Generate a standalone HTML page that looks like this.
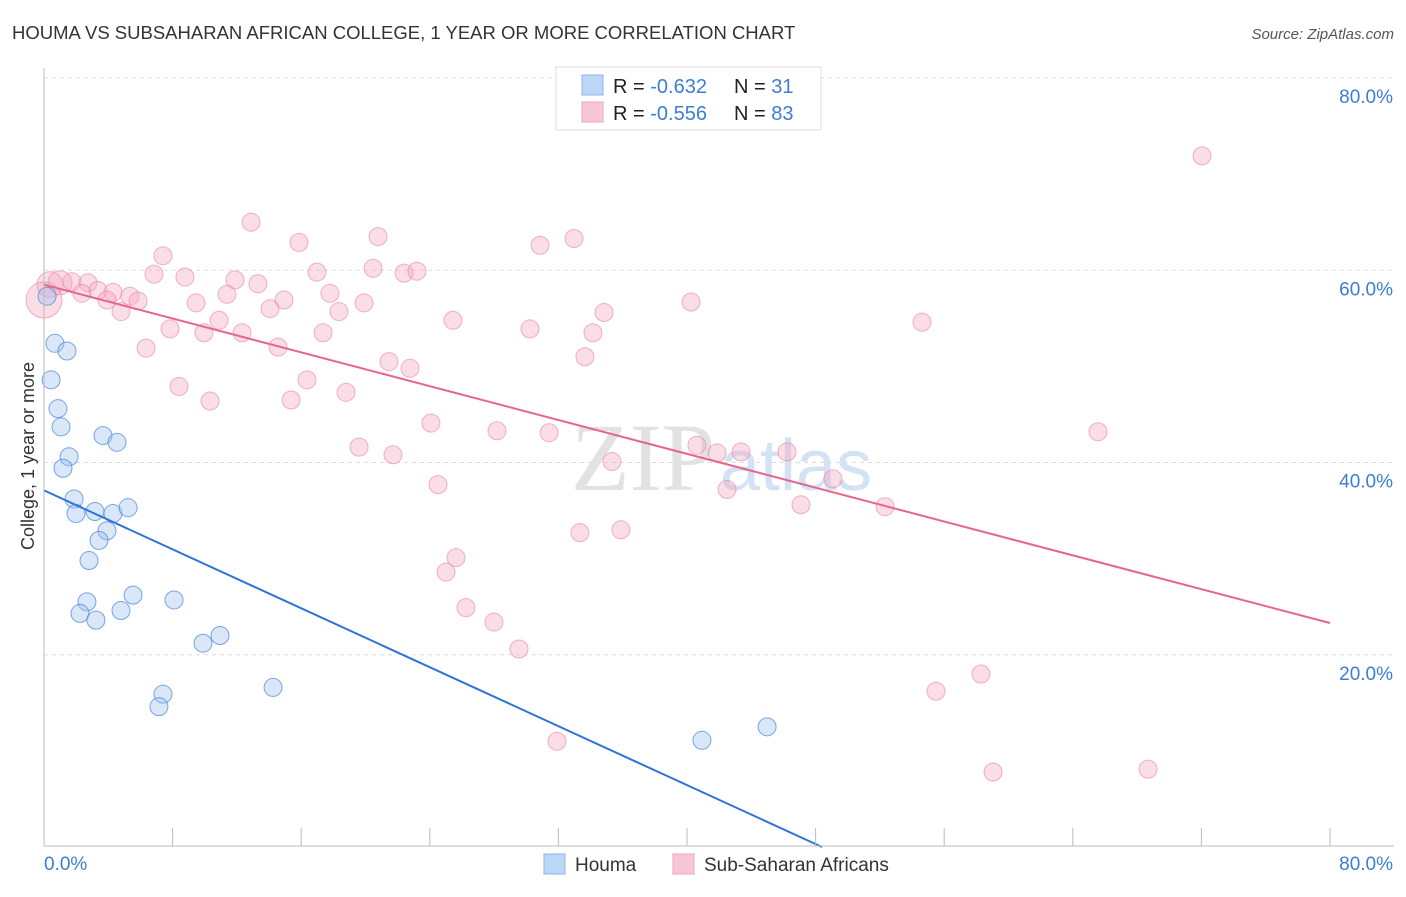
<!DOCTYPE html>
<html><head><meta charset="utf-8"><style>
body{margin:0;background:#fff;font-family:"Liberation Sans",sans-serif;}
svg text{font-family:"Liberation Sans",sans-serif;}
</style></head><body>
<svg id="chart" width="1406" height="892">
<text x="12" y="39" font-size="18.5" fill="#333">HOUMA VS SUBSAHARAN AFRICAN COLLEGE, 1 YEAR OR MORE CORRELATION CHART</text>
<text x="1394" y="39" font-size="15" fill="#555" font-style="italic" text-anchor="end">Source: ZipAtlas.com</text>
<g id="grid"></g>
<text x="715" y="490" font-size="96" fill="#e2e2e2" text-anchor="end" style="font-family:'Liberation Serif',serif">ZIP</text>
<text x="720" y="490" font-size="72" fill="#d3e2f4">atlas</text>
<g id="pts"></g>
<g id="axes"></g>
<text transform="translate(34,456) rotate(-90)" font-size="18" fill="#333" text-anchor="middle">College, 1 year or more</text>
<g>
<rect x="556" y="67" width="265" height="63" fill="#fff" stroke="#ddd"/>
<rect x="582" y="75" width="21" height="20" fill="#bcd6f7" stroke="#8db5ea"/>
<rect x="582" y="102" width="21" height="20" fill="#f9c6d5" stroke="#eea5bb"/>
<text x="613" y="93" font-size="20" fill="#222">R = <tspan fill="#3d7dd8">-0.632</tspan></text>
<text x="734" y="93" font-size="20" fill="#222">N = <tspan fill="#3d7dd8"> 31</tspan></text>
<text x="613" y="120" font-size="20" fill="#222">R = <tspan fill="#3d7dd8">-0.556</tspan></text>
<text x="734" y="120" font-size="20" fill="#222">N = <tspan fill="#3d7dd8">83</tspan></text>
</g>
<g>
<rect x="544" y="854" width="21" height="20" fill="#bcd6f7" stroke="#8db5ea"/>
<text x="575" y="871" font-size="19" fill="#333">Houma</text>
<rect x="673" y="854" width="21" height="20" fill="#f9c6d5" stroke="#eea5bb"/>
<text x="704" y="871" font-size="19" fill="#333">Sub-Saharan Africans</text>
</g>
</svg>
<script>
const houmaX=[0.19,0.68,1.43,0.44,0.87,1.06,3.67,4.54,1.56,1.18,1.87,1.99,3.17,4.29,5.23,3.92,3.42,2.80,5.54,2.67,2.24,3.23,4.79,8.09,10.95,9.89,7.40,7.15,14.25,40.93,44.98];
const houmaY=[57.3,52.4,51.6,48.6,45.6,43.7,42.8,42.1,40.6,39.4,36.2,34.7,34.9,34.7,35.3,32.9,31.9,29.8,26.2,25.5,24.3,23.6,24.6,25.7,22.0,21.2,15.9,14.6,16.6,11.1,12.5];
const subX=[12.88,7.40,15.86,20.78,32.97,30.86,72.04,6.84,8.77,11.88,16.98,20.47,22.40,23.20,13.31,0.37,1.00,1.74,2.74,2.36,3.36,4.29,5.35,5.85,3.92,4.79,9.46,11.38,14.93,14.06,17.79,18.35,19.91,10.89,7.84,9.95,12.32,17.36,25.44,30.23,34.84,34.15,40.25,54.62,6.35,14.56,33.65,21.46,22.77,16.36,8.40,18.79,10.33,15.37,24.07,28.18,31.42,19.60,21.71,40.62,41.87,43.36,46.22,35.33,24.51,42.49,49.08,65.57,47.09,52.32,33.34,35.89,25.63,25.01,26.25,27.99,29.55,58.29,55.49,31.91,59.04,68.68,0];
const subY=[65.0,61.5,62.9,63.5,63.3,62.6,71.9,59.6,59.3,59.0,59.8,60.2,59.7,59.9,58.6,58.5,58.7,58.8,58.7,57.6,57.9,57.7,57.3,56.8,56.9,55.7,56.6,57.5,56.9,56.0,57.6,55.7,56.6,54.8,53.9,53.5,53.5,53.5,54.8,53.9,55.6,53.5,56.7,54.6,51.9,52.0,51.0,50.5,49.8,48.6,47.9,47.3,46.4,46.5,44.1,43.3,43.1,41.6,40.8,41.8,41.0,41.1,41.1,40.1,37.7,37.2,38.3,43.2,35.6,35.4,32.7,33.0,30.1,28.6,24.9,23.4,20.6,18.0,16.2,11.0,7.8,8.1,56.9];
const subR=[];for(let i=0;i<subX.length;i++)subR.push(9);subR[15]=13;subR[16]=12;subR[82]=18;
const houmaTrend=[37.1,0];const houmaTrendX=[0,48.4];
const subTrend=[58.5,23.3];const subTrendX=[0,80];
const yTicks=[20,40,60,80];
const xTickLabels=["0.0%","80.0%"];
const NS="http://www.w3.org/2000/svg";
const X=v=>44+v*16.075, Y=v=>847-v*9.6125;
function mk(t,a,p){const e=document.createElementNS(NS,t);for(const k in a)e.setAttribute(k,a[k]);p.appendChild(e);return e;}
const grid=document.getElementById('grid'),axes=document.getElementById('axes'),pts=document.getElementById('pts');
yTicks.forEach(v=>{
 const l=mk('line',{x1:44,x2:1394,y1:Y(v),y2:Y(v),stroke:'#ddd','stroke-dasharray':'4,4'},grid);
 
 
 const t=mk('text',{x:1393,y:Y(v)+25,'font-size':19,fill:'#3d7dd8','text-anchor':'end'},axes);
 t.textContent=v.toFixed(1)+'%';
 
 
});
let l=mk('line',{x1:44,x2:44,y1:68,y2:846,stroke:'#bbb'},axes);


l=mk('line',{x1:44,x2:1394,y1:846,y2:846,stroke:'#bbb'},axes);


for(let i=0;i<=10;i++){
 const tk=mk('line',{x1:X(i*8),x2:X(i*8),y1:828,y2:846,stroke:'#bbb'},axes);
 
 
}
let t=mk('text',{x:44,y:870,'font-size':19,fill:'#3d7dd8'},axes);t.textContent=xTickLabels[0];


t=mk('text',{x:1393,y:870,'font-size':19,fill:'#3d7dd8','text-anchor':'end'},axes);t.textContent=xTickLabels[1];


subX.forEach((v,i)=>{
 const c=mk('circle',{cx:X(v),cy:Y(subY[i]),r:subR[i],fill:'rgba(246,170,194,0.4)',stroke:'rgba(232,130,160,0.6)','stroke-width':1},pts);
 
 
});
houmaX.forEach((v,i)=>{
 const c=mk('circle',{cx:X(v),cy:Y(houmaY[i]),r:9,fill:'rgba(160,196,240,0.4)',stroke:'rgba(70,130,220,0.7)','stroke-width':1},pts);
 
 
});
l=mk('line',{x1:X(houmaTrendX[0]),y1:Y(houmaTrend[0]),x2:X(houmaTrendX[1]),y2:Y(houmaTrend[1]),stroke:'#2f74d8','stroke-width':2},pts);


l=mk('line',{x1:X(subTrendX[0]),y1:Y(subTrend[0]),x2:X(subTrendX[1]),y2:Y(subTrend[1]),stroke:'#e5658f','stroke-width':2},pts);


</script>
</body></html>
